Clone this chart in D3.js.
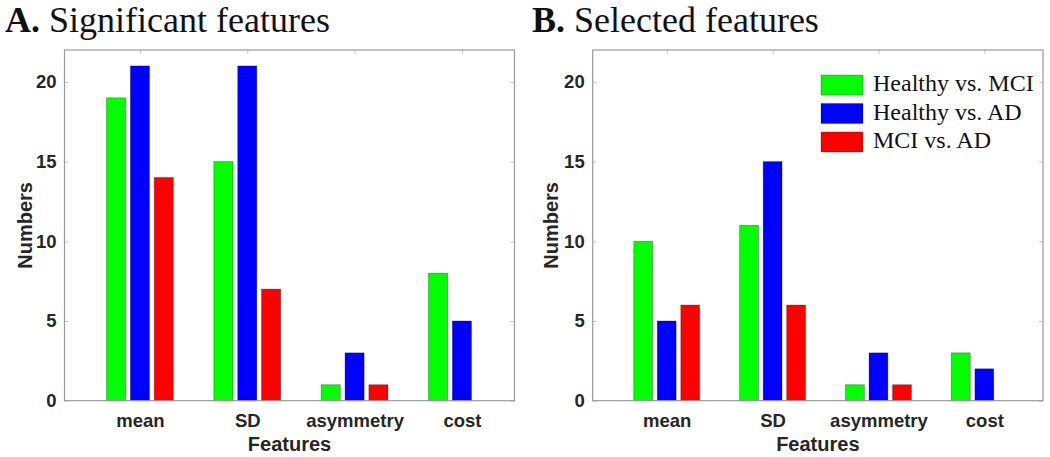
<!DOCTYPE html>
<html>
<head>
<meta charset="utf-8">
<script src="https://cdn.jsdelivr.net/npm/d3@7"></script>
<style>
  html, body { margin: 0; padding: 0; background: #fff; }
  svg { display: block; }
</style>
</head>
<body>
<svg id="chart" width="1050" height="457"></svg>
<script>
// ---------- data ----------
const categories = ["mean", "SD", "asymmetry", "cost"];
const seriesNames = ["Healthy vs. MCI", "Healthy vs. AD", "MCI vs. AD"];
const seriesColors = ["#00ff00", "#0000ff", "#ff0000"];

// Panel A: significant features
const sigHealthyMCI = [19, 15, 1, 8];
const sigHealthyAD  = [21, 21, 3, 5];
const sigMCIAD      = [14, 7, 1, 0];

// Panel B: selected features
const selHealthyMCI = [10, 11, 1, 3];
const selHealthyAD  = [5, 15, 3, 2];
const selMCIAD      = [6, 6, 1, 0];

const yTicks = [0, 5, 10, 15, 20];
const yMax = 22;

const panels = [
  { letter: "A.", title: " Significant features", series: [sigHealthyMCI, sigHealthyAD, sigMCIAD],
    x0: 64.5, x1: 514.5, xDomain: [0.297, 4.49], titleX: 5, yLabelX: 31.5, legend: false },
  { letter: "B.", title: " Selected features", series: [selHealthyMCI, selHealthyAD, selMCIAD],
    x0: 592.7, x1: 1043, xDomain: [0.301, 4.554], titleX: 532, yLabelX: 558, legend: true }
];

const svg = d3.select("#chart");
const yTop = 50, yBottom = 400.7;
const textColor = "#262626";
const axisColor = "#9a9a9a";
const slot = 0.2222, barW = 0.178;

panels.forEach(p => {
  const x = d3.scaleLinear().domain(p.xDomain).range([p.x0, p.x1]);
  const y = d3.scaleLinear().domain([0, yMax]).range([yBottom, yTop]);
  const g = svg.append("g");

  // title
  const t = g.append("text")
    .attr("x", p.titleX).attr("y", 31.5)
    .attr("font-family", "'Liberation Serif', 'Times New Roman', serif")
    .attr("font-size", 36).attr("fill", "#111");
  t.append("tspan").attr("font-weight", "bold").text(p.letter);
  t.append("tspan").text(p.title);

  // bars
  p.series.forEach((vals, si) => {
    g.selectAll(null).data(vals.map((v, ci) => ({ v, ci })))
      .enter().append("rect")
      .attr("x", d => x(d.ci + 1 + (si - 1) * slot - barW / 2))
      .attr("width", d => x(d.ci + 1 + (si - 1) * slot + barW / 2) - x(d.ci + 1 + (si - 1) * slot - barW / 2))
      .attr("y", d => y(d.v))
      .attr("height", d => y(0) - y(d.v))
      .attr("fill", seriesColors[si])
      .attr("stroke", "rgba(0,0,0,0.35)")
      .attr("stroke-width", d => d.v > 0 ? 0.8 : 0);
  });

  // axes
  const catPos = categories.map((c, i) => i + 1);
  const left = g.append("g").attr("transform", `translate(${p.x0},0)`)
    .call(d3.axisLeft(y).tickValues(yTicks).tickSizeInner(-4).tickSizeOuter(0).tickPadding(8));
  const right = g.append("g").attr("transform", `translate(${p.x1},0)`)
    .call(d3.axisRight(y).tickValues(yTicks).tickSizeInner(-4).tickSizeOuter(0).tickFormat(""));
  const bottom = g.append("g").attr("transform", `translate(0,${yBottom})`)
    .call(d3.axisBottom(x).tickValues(catPos).tickSizeInner(-4).tickSizeOuter(0).tickPadding(13.5)
      .tickFormat(d => categories[d - 1]));
  const top = g.append("g").attr("transform", `translate(0,${yTop})`)
    .call(d3.axisTop(x).tickValues(catPos).tickSizeInner(-4).tickSizeOuter(0).tickFormat(""));

  [left, right, bottom, top].forEach(a => {
    a.select(".domain").remove();
    a.selectAll(".tick line").attr("stroke", "#b8b8b8").attr("stroke-width", 0.8);
    a.selectAll("text")
      .attr("font-family", "'Liberation Sans', Arial, Helvetica, sans-serif")
      .attr("font-weight", "bold").attr("font-size", 18.5).attr("fill", textColor);
  });
  bottom.selectAll(".tick line").remove();

  // box
  g.append("rect")
    .attr("x", p.x0).attr("y", yTop)
    .attr("width", p.x1 - p.x0).attr("height", yBottom - yTop)
    .attr("fill", "none").attr("stroke", axisColor).attr("stroke-width", 1.2);

  // axis labels
  g.append("text")
    .attr("x", (p.x0 + p.x1) / 2).attr("y", 451)
    .attr("text-anchor", "middle")
    .attr("font-family", "'Liberation Sans', Arial, Helvetica, sans-serif")
    .attr("font-weight", "bold").attr("font-size", 20).attr("fill", textColor)
    .text("Features");
  g.append("text")
    .attr("transform", `translate(${p.yLabelX},${(yTop + yBottom) / 2}) rotate(-90)`)
    .attr("text-anchor", "middle")
    .attr("font-family", "'Liberation Sans', Arial, Helvetica, sans-serif")
    .attr("font-weight", "bold").attr("font-size", 20).attr("fill", textColor)
    .text("Numbers");

  // legend
  if (p.legend) {
    const lg = g.append("g");
    seriesNames.forEach((name, i) => {
      lg.append("rect")
        .attr("x", 821).attr("y", 75 + i * 28.5)
        .attr("width", 42).attr("height", 20)
        .attr("fill", seriesColors[i])
        .attr("stroke", "rgba(0,0,0,0.3)").attr("stroke-width", 0.8);
      lg.append("text")
        .attr("x", 873).attr("y", 91 + i * 28.5)
        .attr("font-family", "'Liberation Serif', 'Times New Roman', serif")
        .attr("font-size", 24).attr("fill", "#111")
        .text(name);
    });
  }
});
</script>
</body>
</html>
